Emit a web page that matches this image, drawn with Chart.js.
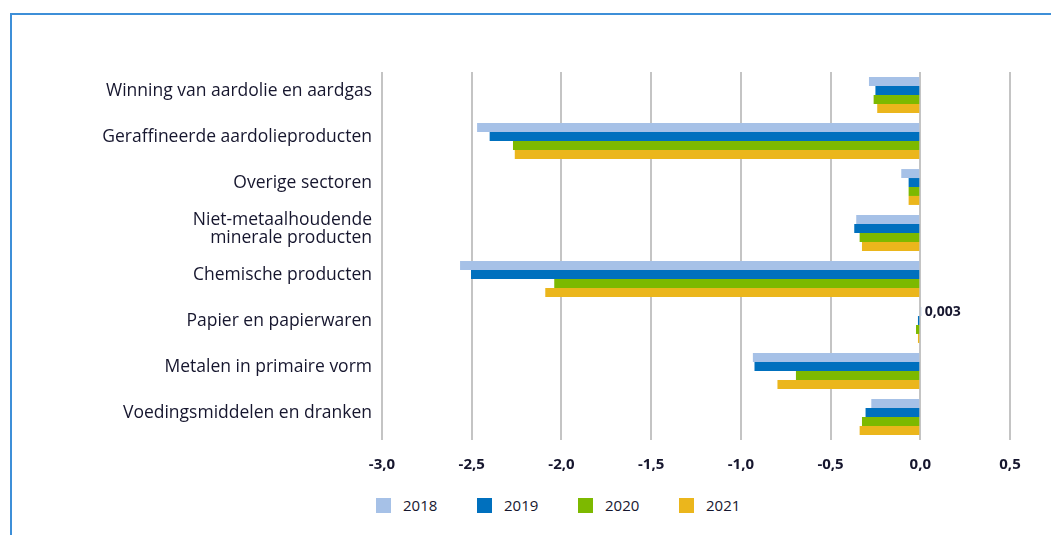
<!DOCTYPE html>
<html>
<head>
<meta charset="utf-8">
<script src="https://cdn.jsdelivr.net/npm/chart.js@4.4.0/dist/chart.umd.min.js"></script>
<style>
    html, body { margin: 0; padding: 0; background: #fff; }
    body { width: 1051px; height: 535px; position: relative; overflow: hidden; font-family: "Open Sans", sans-serif; }
    #frame { position: absolute; left: 10px; top: 13px; width: 1100px; height: 600px;
             border-top: 2px solid #3d8fd8; border-left: 2px solid #3d8fd8; }
    #wrap { position: absolute; left: 0; top: 0; width: 1051px; height: 490px; }
    #legend { position: absolute; left: 376px; top: 495px; display: flex; }
    .legend-item { display: flex; align-items: center; width: 101px; font-size: 15px; color: #16162e; }
    .legend-box { width: 15px; height: 15px; margin-right: 12px; }
</style>
</head>
<body>
<div id="frame"></div>
<div id="wrap"><canvas id="energyChart"></canvas></div>
<div id="legend"></div>
<script>
const CATEGORIES = [
    'Winning van aardolie en aardgas',
    'Geraffineerde aardolieproducten',
    'Overige sectoren',
    ['Niet-metaalhoudende', 'minerale producten'],
    'Chemische producten',
    'Papier en papierwaren',
    'Metalen in primaire vorm',
    'Voedingsmiddelen en dranken',
];
const YEARS = ['2018', '2019', '2020', '2021'];
const YEAR_COLORS = ['#A6C1E7', '#0070BE', '#7DB900', '#EBB61C'];

const VALUES_2018 = [-0.286, -2.47, -0.106, -0.357, -2.565, 0.003, -0.933, -0.273];
const VALUES_2019 = [-0.25, -2.40, -0.065, -0.368, -2.504, -0.013, -0.924, -0.305];
const VALUES_2020 = [-0.26, -2.27, -0.065, -0.338, -2.04, -0.024, -0.693, -0.325];
const VALUES_2021 = [-0.24, -2.26, -0.065, -0.325, -2.09, -0.013, -0.796, -0.338];

const X_MIN = -3.0, X_MAX = 0.5, X_STEP = 0.5;

const TEXT_COLOR = '#16162e';
const FONT = '"Open Sans", sans-serif';

// label only the small positive value, like the original
const valueLabel = {
    id: 'valueLabel',
    afterDatasetsDraw(chart) {
        const ctx = chart.ctx;
        const meta = chart.getDatasetMeta(0);
        const idx = 5;
        const bar = meta.data[idx];
        ctx.save();
        ctx.font = 'bold 14px ' + FONT;
        ctx.fillStyle = TEXT_COLOR;
        ctx.textAlign = 'left';
        ctx.textBaseline = 'middle';
        ctx.fillText(VALUES_2018[idx].toFixed(3).replace('.', ','), bar.x + 4, bar.y);
        ctx.restore();
    }
};

const datasets = [VALUES_2018, VALUES_2019, VALUES_2020, VALUES_2021].map((vals, i) => ({
    label: YEARS[i],
    data: vals,
    backgroundColor: YEAR_COLORS[i],
    borderWidth: 0,
    categoryPercentage: 0.78,
    barPercentage: 1.0,
}));

const ctx = document.getElementById('energyChart').getContext('2d');
new Chart(ctx, {
    type: 'bar',
    data: { labels: CATEGORIES, datasets },
    plugins: [valueLabel],
    options: {
        indexAxis: 'y',
        responsive: true,
        maintainAspectRatio: false,
        animation: false,
        layout: { padding: { top: 72, right: 41, left: 0, bottom: 0 } },
        plugins: {
            legend: { display: false },
            tooltip: { enabled: false },
        },
        scales: {
            x: {
                min: X_MIN,
                max: X_MAX,
                border: { display: false },
                grid: { color: '#c4c4c4', lineWidth: 2, drawTicks: false },
                ticks: {
                    stepSize: X_STEP,
                    padding: 16,
                    color: TEXT_COLOR,
                    font: { family: FONT, size: 15, weight: 'bold' },
                    callback: v => v.toFixed(1).replace('.', ','),
                },
            },
            y: {
                border: { display: false },
                grid: { display: false, drawTicks: false },
                afterFit(scale) { scale.width = 382; },
                ticks: {
                    padding: 10,
                    labelOffset: -4,
                    color: TEXT_COLOR,
                    font: { family: FONT, size: 17.5, lineHeight: 1.05 },
                },
            },
        },
    },
});

const legend = document.getElementById('legend');
YEARS.forEach((y, i) => {
    const item = document.createElement('div');
    item.className = 'legend-item';
    item.innerHTML = `<span class="legend-box" style="background:${YEAR_COLORS[i]}"></span>${y}`;
    legend.appendChild(item);
});
</script>
</body>
</html>
